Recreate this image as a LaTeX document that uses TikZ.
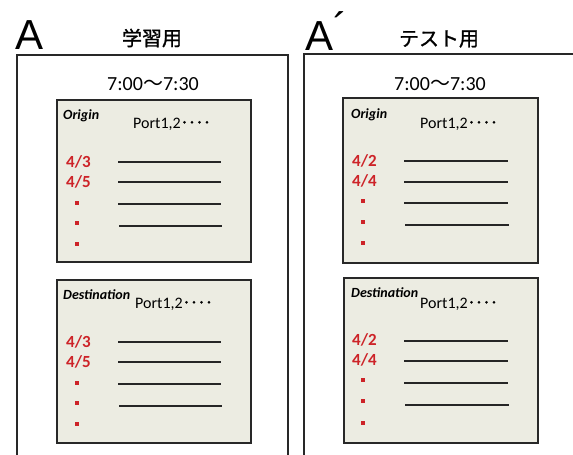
\documentclass[tikz,border=0pt]{standalone}
\usepackage{fontspec}
\setmainfont{Carlito}
\newfontfamily\cjk{Noto Sans CJK JP}
\newfontfamily\cjkb[FakeBold=1.2]{Noto Sans CJK JP}
\newfontfamily\arialf{Liberation Sans}
\definecolor{boxfill}{RGB}{236,236,226}
\definecolor{frame}{RGB}{40,40,40}
\definecolor{lab}{RGB}{205,35,40}
\tikzset{
  outer/.style={draw=frame,line width=2pt},
  panel/.style={draw=frame,fill=boxfill,line width=1.8pt},
  rule/.style={draw=black!85,line width=1.3pt},
  bigA/.style={inner sep=0pt,anchor=base west,font=\arialf\fontsize{42}{42}\selectfont},
  ttl/.style={inner sep=0pt,font=\cjkb\fontsize{20}{24}\selectfont},
  tm/.style={inner sep=0pt,font=\fontsize{20}{24}\selectfont},
  hdr/.style={inner sep=0pt,anchor=base west,font=\bfseries\itshape\fontsize{14}{16}\selectfont},
  port/.style={inner sep=0pt,anchor=base west,font=\fontsize{16}{18}\selectfont},
  rlab/.style={inner sep=0pt,anchor=base west,text=lab,font=\bfseries\fontsize{17}{19}\selectfont},
  rdot/.style={rectangle,fill=lab,inner sep=0pt,minimum size=3.4pt},
}
\newcommand{\pdots}{{\cjkb\fontsize{15}{18}\selectfont ････}}
\begin{document}
\begin{tikzpicture}[x=1pt,y=-1pt]
\useasboundingbox (0,0) rectangle (573,455);
% outer frames
\draw[outer] (17,458) -- (17,55) -- (288,55) -- (288,458);
\draw[outer] (304,458) -- (304,54) -- (575,54);
% headings
\node[bigA] (A1) at (15,49) {A};
\node[bigA] (A2) at (305,50) {A\raisebox{8pt}{´}};
\node[ttl] (t1) at (152,38) {学習用};
\node[ttl] (t2) at (439,39) {テスト用};
\node[tm] (tm1) at (153,84) {7:00{\cjk ～}7:30};
\node[tm] (tm2) at (440,84) {7:00{\cjk ～}7:30};
% panels
\draw[panel] (57,100) rectangle (251,262);
\draw[panel] (57,280) rectangle (251,443);
\draw[panel] (343,98) rectangle (538,263);
\draw[panel] (344,278) rectangle (538,443);
% left origin
\node[hdr] (lo) at (63,119) {Origin};
\node[port] (lop) at (133,128) {Port1,2\pdots};
\node[rlab] (lo1) at (66,167) {4/3};
\node[rlab] (lo2) at (66,187) {4/5};
\node[rdot] (lo3) at (77,203) {};
\node[rdot] (lo4) at (77,223) {};
\node[rdot] (lo5) at (77,244) {};
\draw[rule] (118,162) -- (221,162);
\draw[rule] (118,182) -- (221,182);
\draw[rule] (118,204) -- (221,204);
\draw[rule] (119,226) -- (222,226);
% left destination
\node[hdr] (ld) at (63,299) {Destination};
\node[port] (ldp) at (135,308) {Port1,2\pdots};
\node[rlab] (ld1) at (66,347) {4/3};
\node[rlab] (ld2) at (66,367) {4/5};
\node[rdot] (ld3) at (77,383) {};
\node[rdot] (ld4) at (77,403) {};
\node[rdot] (ld5) at (77,424) {};
\draw[rule] (118,342) -- (221,342);
\draw[rule] (118,362) -- (221,362);
\draw[rule] (118,384) -- (221,384);
\draw[rule] (119,406) -- (222,406);
% right origin
\node[hdr] (ro) at (351,118) {Origin};
\node[port] (rop) at (420,128) {Port1,2\pdots};
\node[rlab] (ro1) at (352,166) {4/2};
\node[rlab] (ro2) at (352,186) {4/4};
\node[rdot] (ro3) at (363,201) {};
\node[rdot] (ro4) at (363,222) {};
\node[rdot] (ro5) at (363,243) {};
\draw[rule] (404,161) -- (508,161);
\draw[rule] (404,182) -- (508,182);
\draw[rule] (404,203) -- (508,203);
\draw[rule] (405,225) -- (509,225);
% right destination
\node[hdr] (rd) at (351,297) {Destination};
\node[port] (rdp) at (420,308) {Port1,2\pdots};
\node[rlab] (rd1) at (352,345) {4/2};
\node[rlab] (rd2) at (352,365) {4/4};
\node[rdot] (rd3) at (363,380) {};
\node[rdot] (rd4) at (363,401) {};
\node[rdot] (rd5) at (363,423) {};
\draw[rule] (404,341) -- (508,341);
\draw[rule] (404,361) -- (508,361);
\draw[rule] (404,383) -- (508,383);
\draw[rule] (405,405) -- (509,405);
\end{tikzpicture}
\end{document}
